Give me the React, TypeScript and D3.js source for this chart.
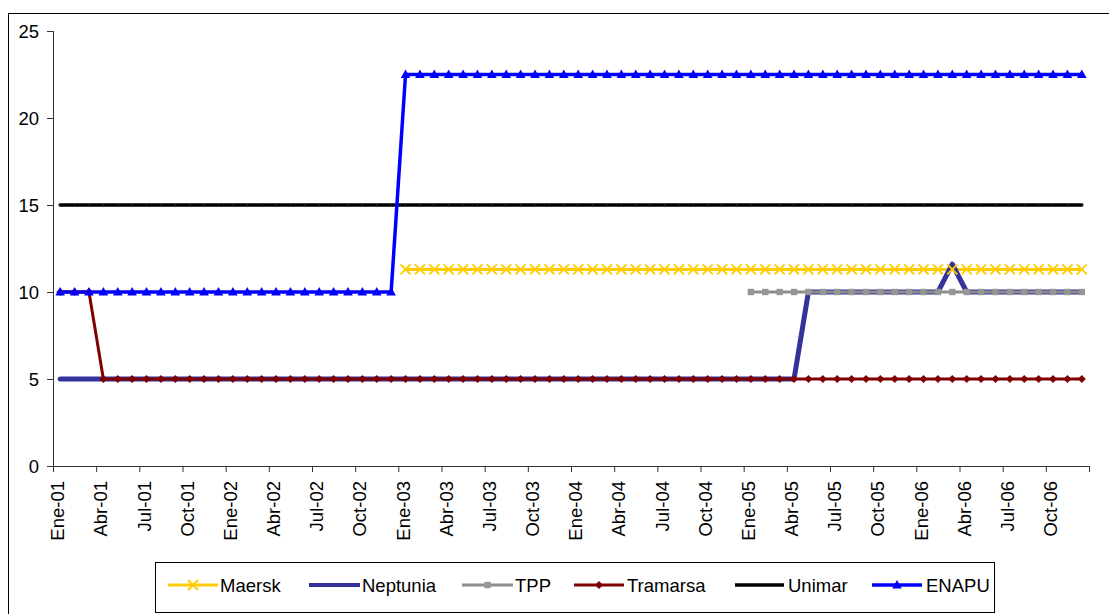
import React from "react";
import * as d3 from "d3";

const N = null;
const months = ["Ene", "Feb", "Mar", "Abr", "May", "Jun", "Jul", "Ago", "Sep", "Oct", "Nov", "Dic"];
const years = ["01", "02", "03", "04", "05", "06"];
const categories = years.flatMap((yy) => months.map((m) => `${m}-${yy}`));
const yTicks = [0, 5, 10, 15, 20, 25];

// One row per year (Ene..Dic)
const maersk = [
  N, N, N, N, N, N, N, N, N, N, N, N,
  N, N, N, N, N, N, N, N, N, N, N, N,
  11.3, 11.3, 11.3, 11.3, 11.3, 11.3, 11.3, 11.3, 11.3, 11.3, 11.3, 11.3,
  11.3, 11.3, 11.3, 11.3, 11.3, 11.3, 11.3, 11.3, 11.3, 11.3, 11.3, 11.3,
  11.3, 11.3, 11.3, 11.3, 11.3, 11.3, 11.3, 11.3, 11.3, 11.3, 11.3, 11.3,
  11.3, 11.3, 11.3, 11.3, 11.3, 11.3, 11.3, 11.3, 11.3, 11.3, 11.3, 11.3,
];
const neptunia = [
  5, 5, 5, 5, 5, 5, 5, 5, 5, 5, 5, 5,
  5, 5, 5, 5, 5, 5, 5, 5, 5, 5, 5, 5,
  5, 5, 5, 5, 5, 5, 5, 5, 5, 5, 5, 5,
  5, 5, 5, 5, 5, 5, 5, 5, 5, 5, 5, 5,
  5, 5, 5, 5, 10, 10, 10, 10, 10, 10, 10, 10,
  10, 10, 11.6, 10, 10, 10, 10, 10, 10, 10, 10, 10,
];
const tpp = [
  N, N, N, N, N, N, N, N, N, N, N, N,
  N, N, N, N, N, N, N, N, N, N, N, N,
  N, N, N, N, N, N, N, N, N, N, N, N,
  N, N, N, N, N, N, N, N, N, N, N, N,
  10, 10, 10, 10, 10, 10, 10, 10, 10, 10, 10, 10,
  10, 10, 10, 10, 10, 10, 10, 10, 10, 10, 10, 10,
];
const tramarsa = [
  10, 10, 10, 5, 5, 5, 5, 5, 5, 5, 5, 5,
  5, 5, 5, 5, 5, 5, 5, 5, 5, 5, 5, 5,
  5, 5, 5, 5, 5, 5, 5, 5, 5, 5, 5, 5,
  5, 5, 5, 5, 5, 5, 5, 5, 5, 5, 5, 5,
  5, 5, 5, 5, 5, 5, 5, 5, 5, 5, 5, 5,
  5, 5, 5, 5, 5, 5, 5, 5, 5, 5, 5, 5,
];
const unimar = [
  15, 15, 15, 15, 15, 15, 15, 15, 15, 15, 15, 15,
  15, 15, 15, 15, 15, 15, 15, 15, 15, 15, 15, 15,
  15, 15, 15, 15, 15, 15, 15, 15, 15, 15, 15, 15,
  15, 15, 15, 15, 15, 15, 15, 15, 15, 15, 15, 15,
  15, 15, 15, 15, 15, 15, 15, 15, 15, 15, 15, 15,
  15, 15, 15, 15, 15, 15, 15, 15, 15, 15, 15, 15,
];
const enapu = [
  10, 10, 10, 10, 10, 10, 10, 10, 10, 10, 10, 10,
  10, 10, 10, 10, 10, 10, 10, 10, 10, 10, 10, 10,
  22.5, 22.5, 22.5, 22.5, 22.5, 22.5, 22.5, 22.5, 22.5, 22.5, 22.5, 22.5,
  22.5, 22.5, 22.5, 22.5, 22.5, 22.5, 22.5, 22.5, 22.5, 22.5, 22.5, 22.5,
  22.5, 22.5, 22.5, 22.5, 22.5, 22.5, 22.5, 22.5, 22.5, 22.5, 22.5, 22.5,
  22.5, 22.5, 22.5, 22.5, 22.5, 22.5, 22.5, 22.5, 22.5, 22.5, 22.5, 22.5,
];

type Marker = "x" | "none" | "square" | "diamond" | "dash" | "triangle";
type Series = { name: string; values: (number | null)[]; color: string; width: number; marker: Marker; mcolor: string };

const series: Series[] = [
  { name: "Maersk", values: maersk, color: "#FFCC00", width: 3, marker: "x", mcolor: "#FFCC00" },
  { name: "Neptunia", values: neptunia, color: "#333399", width: 5, marker: "none", mcolor: "#333399" },
  { name: "TPP", values: tpp, color: "#8C8C8C", width: 3, marker: "square", mcolor: "#969696" },
  { name: "Tramarsa", values: tramarsa, color: "#800000", width: 3, marker: "diamond", mcolor: "#800000" },
  { name: "Unimar", values: unimar, color: "#000000", width: 3.5, marker: "dash", mcolor: "#000000" },
  { name: "ENAPU", values: enapu, color: "#0000FF", width: 3.5, marker: "triangle", mcolor: "#0000FF" },
];

// legend layout (line start, line end, text start)
const legendLayout = [
  { x1: 168, x2: 218, tx: 220 },
  { x1: 309, x2: 360, tx: 362 },
  { x1: 462, x2: 513, tx: 515 },
  { x1: 574, x2: 624, tx: 627 },
  { x1: 735, x2: 784, tx: 788 },
  { x1: 872, x2: 922, tx: 926 },
];

function MarkerShape({ type, x, y, color, legend }: { type: Marker; x: number; y: number; color: string; legend?: boolean }) {
  switch (type) {
    case "x": {
      const s = 5;
      return (
        <g stroke={color} strokeWidth={2}>
          <line x1={x - s} y1={y - s} x2={x + s} y2={y + s} />
          <line x1={x - s} y1={y + s} x2={x + s} y2={y - s} />
        </g>
      );
    }
    case "square":
      return <rect x={x - 3.2} y={y - 3.2} width={6.4} height={6.4} fill={color} />;
    case "diamond":
      return <path d={`M${x},${y - 4}L${x + 4},${y}L${x},${y + 4}L${x - 4},${y}Z`} fill={color} />;
    case "triangle":
      return <path d={`M${x},${y - 5}L${x + 4.8},${y + 3.5}L${x - 4.8},${y + 3.5}Z`} fill={color} />;
    case "dash":
      return legend ? null : <line x1={x} y1={y - 2} x2={x} y2={y + 2} stroke="#333" strokeWidth={0.8} />;
    default:
      return null;
  }
}

export default function App() {
  const W = 1109;
  const H = 614;
  const left = 53;
  const right = 1089;
  const top = 31;
  const bottom = 466;

  const x = d3.scaleBand<string>().domain(categories).range([left, right]).paddingInner(0).paddingOuter(0);
  const bw = x.bandwidth();
  const cx = (i: number) => (x(categories[i]) as number) + bw / 2;
  const y = d3.scaleLinear().domain([0, 25]).range([bottom, top]);

  const lineGen = d3
    .line<number | null>()
    .defined((d) => d != null)
    .x((_, i) => cx(i))
    .y((d) => y(d as number));

  const tickIdx = categories.map((_, i) => i).filter((i) => i % 3 === 0);
  const axisFont = "'Liberation Sans', Arial, sans-serif";

  return (
    <svg
      width={W}
      height={H}
      style={{ position: "absolute", left: 0, top: 0, background: "#fff" }}
      fontFamily={axisFont}
    >
      <rect x={0} y={0} width={W} height={H} fill="#fff" />
      {/* outer frame */}
      <rect x={8.5} y={13.5} width={1300} height={800} fill="none" stroke="#000" strokeWidth={1} />

      {/* y axis */}
      <line x1={left + 0.5} y1={top} x2={left + 0.5} y2={bottom} stroke="#333" strokeWidth={1} />
      {yTicks.map((t) => (
        <g key={t}>
          <line x1={left - 6} x2={left} y1={y(t) + 0.5} y2={y(t) + 0.5} stroke="#333" strokeWidth={1} />
          <text x={39} y={y(t)} dy="0.36em" textAnchor="end" fontSize={18.5} fill="#000">
            {t}
          </text>
        </g>
      ))}

      {/* x axis */}
      <line x1={left} y1={bottom + 0.5} x2={right} y2={bottom + 0.5} stroke="#333" strokeWidth={1} />
      {[...tickIdx.map((i) => x(categories[i]) as number), right].map((px, k) => (
        <line key={k} x1={px + 0.5} x2={px + 0.5} y1={bottom} y2={bottom + 6} stroke="#333" strokeWidth={1} />
      ))}
      {tickIdx.map((i) => (
        <text
          key={categories[i]}
          transform={`translate(${cx(i) + 4},${bottom + 15}) rotate(-90)`}
          textAnchor="end"
          fontSize={18.5}
          fill="#000"
        >
          {categories[i]}
        </text>
      ))}

      {/* lines */}
      {series.map((s) => (
        <path
          key={s.name}
          d={lineGen(s.values) || ""}
          fill="none"
          stroke={s.color}
          strokeWidth={s.width}
          strokeLinejoin="round"
          strokeLinecap="round"
        />
      ))}
      {/* markers */}
      {series.map((s) => (
        <g key={s.name + "-m"}>
          {s.values.map((v, i) =>
            v == null ? null : <MarkerShape key={i} type={s.marker} x={cx(i)} y={y(v)} color={s.mcolor} />
          )}
        </g>
      ))}

      {/* legend */}
      <rect x={155.5} y={562.5} width={839} height={50} fill="#fff" stroke="#000" strokeWidth={1} />
      {series.map((s, k) => {
        const L = legendLayout[k];
        const ly = 585;
        return (
          <g key={s.name + "-lg"}>
            <line x1={L.x1} x2={L.x2} y1={ly} y2={ly} stroke={s.color} strokeWidth={Math.min(s.width, 4)} />
            <MarkerShape type={s.marker} x={(L.x1 + L.x2) / 2} y={ly} color={s.mcolor} legend />
            <text x={L.tx} y={ly} dy="0.36em" fontSize={18.5} fill="#000">
              {s.name}
            </text>
          </g>
        );
      })}
    </svg>
  );
}
